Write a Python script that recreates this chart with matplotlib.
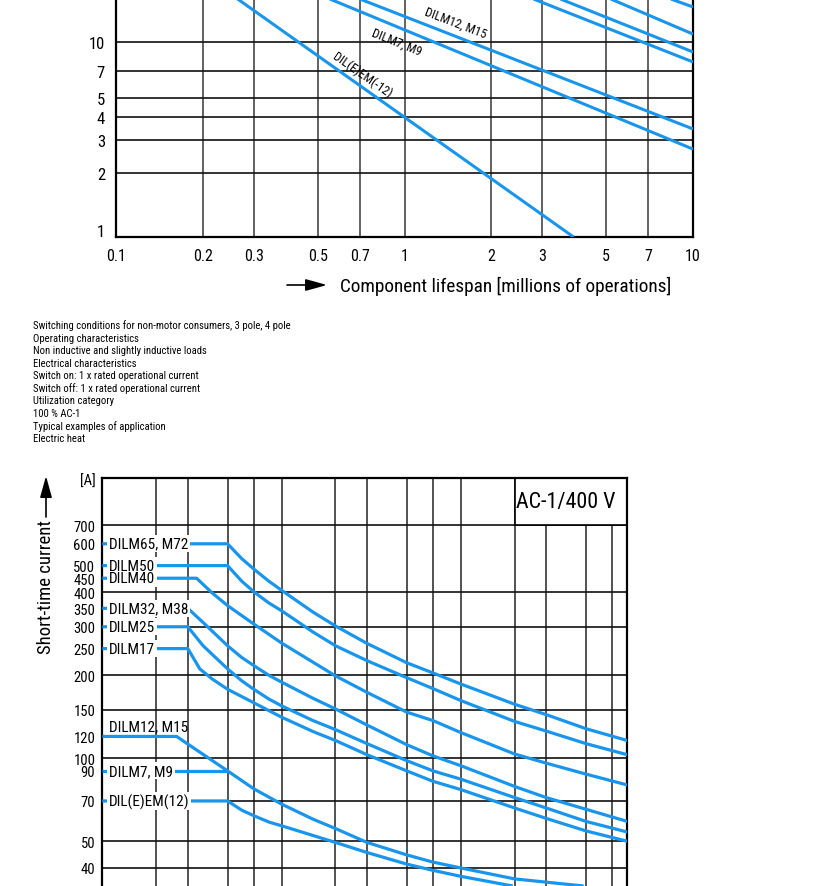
import matplotlib
matplotlib.use('Agg')
import matplotlib.pyplot as plt
from matplotlib import font_manager
from matplotlib.patches import Rectangle, FancyArrowPatch
from matplotlib.ticker import NullLocator

# pick a narrow sans if there is one
names = {f.name for f in font_manager.fontManager.ttflist}
font = 'DejaVu Sans'
for cand in ['Liberation Sans Narrow', 'Roboto Condensed', 'Liberation Sans']:
    if cand in names:
        font = cand
        break
plt.rcParams['font.family'] = [font, 'DejaVu Sans']

BLUE = '#1a95ec'
W, H = 830, 887

# ---- top chart: component lifespan (AC-1) ----
life_xticks = [0.1, 0.2, 0.3, 0.5, 0.7, 1, 2, 3, 5, 7, 10]
life_xlabels = ['0.1', '0.2', '0.3', '0.5', '0.7', '1', '2', '3', '5', '7', '10']
life_ygrid = [2, 3, 4, 5, 7, 10]

# straight lines, read at the top edge and at the right/bottom edge
life_dilem_x = [0.264, 3.856]
life_dilem_y = [16.8, 0.92]
life_dilm7_x = [0.551, 10]
life_dilm7_y = [16.8, 2.69]
life_dilm12_x = [0.70, 10]
life_dilm12_y = [16.8, 3.44]
life_c_x = [2.8, 10]
life_c_y = [16.8, 7.79]
life_d_x = [3.47, 10]
life_d_y = [16.8, 8.8]
life_e_x = [5.19, 10]
life_e_y = [16.8, 10.95]
life_f_x = [8.38, 10]
life_f_y = [16.8, 15.24]

info_lines = [
    'Switching conditions for non-motor consumers, 3 pole, 4 pole',
    'Operating characteristics',
    'Non inductive and slightly inductive loads',
    'Electrical characteristics',
    'Switch on: 1 x rated operational current',
    'Switch off: 1 x rated operational current',
    'Utilization category',
    '100 % AC-1',
    'Typical examples of application',
    'Electric heat',
]

# ---- bottom chart: short-time current ----
st_xgrid = [2, 3, 5, 7, 10, 20, 30, 50, 70, 100, 200, 300, 500, 700]
st_ygrid = [40, 50, 70, 100, 150, 200, 300, 400, 700]
st_yextra = [90, 120, 250, 350, 450, 500, 600]

dilm65_x = [1, 5, 6, 7, 8.5, 10, 15, 20, 30, 50, 70, 100, 200, 300, 500, 850]
dilm65_y = [600, 600, 530, 486, 439, 407, 339, 302, 261, 222, 204, 186, 157, 144, 128, 116]
dilm50_x = [1, 5, 6, 7, 8.5, 10, 15, 20, 30, 50, 70, 100, 200, 300, 500, 850]
dilm50_y = [500, 500, 439, 402, 366, 343, 287, 256, 226, 196, 179, 162, 136, 125.5, 113, 103]
dilm40_x = [1, 3.36, 4.1, 5, 7, 10, 20, 30, 50, 70, 100, 200, 300, 500, 850]
dilm40_y = [450, 450, 398, 358, 307, 262, 199, 173.4, 147, 137, 124, 103.6, 96, 87.6, 80]
dilm32_x = [1, 3, 3.65, 5, 6, 7, 8.5, 10, 15, 20, 30, 50, 70, 100, 200, 300, 500, 850]
dilm32_y = [350, 350, 311, 256, 232, 217, 200, 189, 165, 151, 132, 112, 102, 94, 79, 72, 65.3, 59]
dilm25_x = [1, 3, 3.65, 5, 6, 7, 8.5, 10, 15, 20, 30, 50, 70, 100, 200, 300, 500, 850]
dilm25_y = [300, 300, 256, 211, 191, 178, 164, 155, 137, 127, 113, 98, 90, 84, 72, 66, 59, 54]
dilm17_x = [1, 3, 3.5, 4.1, 5, 7, 10, 15, 20, 30, 50, 70, 100, 200, 300, 500, 850]
dilm17_y = [250, 250, 211, 194, 178, 159, 141, 125, 116, 103, 90, 82.5, 77, 66, 60.5, 54.5, 50]
dilm12_x = [1, 2.6, 3, 5, 7, 10, 15, 20, 30, 50, 70, 100, 200, 485]
dilm12_y = [120, 120, 112.6, 90, 77.5, 68.2, 60.1, 55.6, 49.5, 44.6, 42, 40, 36.5, 34.4]
dilm7_x = [1, 5]
dilm7_y = [90, 90]
dilem_x = [1, 5, 6, 7, 8.5, 10, 20, 30, 50, 70, 100, 195]
dilem_y = [70, 70, 64.8, 61.9, 58.7, 56.9, 49.5, 45.5, 41.3, 39.2, 37.3, 34.4]

st_labels = ['DILM65, M72', 'DILM50', 'DILM40', 'DILM32, M38', 'DILM25', 'DILM17',
             'DILM7, M9', 'DIL(E)EM(12)']
st_label_y = [600, 500, 450, 350, 300, 250, 90, 70]


def fx(px):
    return px / W


def fy(py):
    return 1 - py / H


fig = plt.figure(figsize=(W / 100, H / 100), dpi=100)
fig.patch.set_facecolor('white')

# top chart
ax1 = fig.add_axes([fx(116), fy(238), fx(693) - fx(116), 1 - fy(238)])
ax1.set_xscale('log')
ax1.set_yscale('log')
ax1.set_xlim(0.1, 10)
ax1.set_ylim(0.92, 16.8)
for xs, ys in [(life_dilem_x, life_dilem_y), (life_dilm7_x, life_dilm7_y),
               (life_dilm12_x, life_dilm12_y), (life_c_x, life_c_y),
               (life_d_x, life_d_y), (life_e_x, life_e_y), (life_f_x, life_f_y)]:
    ax1.plot(xs, ys, color=BLUE, lw=2.2, solid_capstyle='butt', zorder=3)
ax1.set_xticks(life_xticks, labels=life_xlabels)
ax1.xaxis.set_minor_locator(NullLocator())
ax1.set_yticks(life_ygrid, labels=[str(v) for v in life_ygrid])
ax1.set_yticks([1], labels=['1'], minor=True)
ax1.xaxis.grid(True, which='major', color='#555555', lw=1.3)
ax1.yaxis.grid(True, which='major', color='#111111', lw=1.2)
ax1.set_axisbelow(True)
ax1.tick_params(axis='x', which='both', length=0, pad=8, labelsize=11.5)
ax1.tick_params(axis='y', which='both', length=0, pad=8, labelsize=12)
ax1.spines['top'].set_visible(False)
for s in ['left', 'right', 'bottom']:
    ax1.spines[s].set_linewidth(1.6)

ax1.text(1.5, 12.7, 'DILM12, M15', rotation=-21, fontsize=9,
         ha='center', va='center', rotation_mode='anchor', zorder=4)
ax1.text(0.942, 10.05, 'DILM7, M9', rotation=-22, fontsize=9,
         ha='center', va='center', rotation_mode='anchor', zorder=4)
ax1.text(0.711, 6.72, 'DIL(E)EM(-12)', rotation=-35, fontsize=9,
         ha='center', va='center', rotation_mode='anchor', zorder=4)

fig.text(fx(340), fy(286), 'Component lifespan [millions of operations]',
         fontsize=13.9, ha='left', va='center')
fig.add_artist(FancyArrowPatch((fx(287), fy(286)), (fx(327), fy(286)),
                               transform=fig.transFigure,
                               arrowstyle='-|>,head_length=0.65,head_width=0.18',
                               mutation_scale=20, color='black', lw=1.2,
                               shrinkA=0, shrinkB=0))

# description lines
for i, line in enumerate(info_lines):
    fig.text(fx(33), fy(326 + i * 12.56), line, fontsize=7.7, ha='left', va='center')

# bottom chart
ax2 = fig.add_axes([fx(102.3), 0, fx(627.3) - fx(102.3), fy(479.3)])
ax2.set_xscale('log')
ax2.set_yscale('log')
ax2.set_xlim(1, 850)
ax2.set_ylim(34.4, 1037)
for xs, ys in [(dilm65_x, dilm65_y), (dilm50_x, dilm50_y), (dilm40_x, dilm40_y),
               (dilm32_x, dilm32_y), (dilm25_x, dilm25_y), (dilm17_x, dilm17_y),
               (dilm12_x, dilm12_y), (dilm7_x, dilm7_y), (dilem_x, dilem_y)]:
    ax2.plot(xs, ys, color=BLUE, lw=2.3, solid_capstyle='butt',
             solid_joinstyle='round', zorder=3)

ax2.set_xticks(st_xgrid, labels=[''] * len(st_xgrid))
ax2.xaxis.set_minor_locator(NullLocator())
ax2.set_yticks(st_ygrid, labels=[str(v) for v in st_ygrid])
ax2.set_yticks(st_yextra, labels=[str(v) for v in st_yextra], minor=True)
ax2.xaxis.grid(True, which='major', color='#444444', lw=1.3)
ax2.yaxis.grid(True, which='major', color='#111111', lw=1.2)
ax2.set_axisbelow(True)
ax2.tick_params(which='both', length=0, pad=5, labelsize=10.5)
ax2.spines['bottom'].set_visible(False)
for s in ['left', 'right', 'top']:
    ax2.spines[s].set_linewidth(1.6)

# white knock-outs first, then the label texts on top of all of them
for name, yv in zip(st_labels, st_label_y):
    ax2.text(1.09, yv, name, fontsize=11, ha='left', va='center', zorder=3.5,
             color='none',
             bbox=dict(boxstyle='square,pad=0.1', fc='white', ec='none'))
for name, yv in zip(st_labels, st_label_y):
    ax2.text(1.09, yv, name, fontsize=11, ha='left', va='center', zorder=4)
ax2.annotate('DILM12, M15', (1.09, 120), xytext=(0, 7), textcoords='offset points',
             fontsize=11, ha='left', va='center', zorder=4)

ax2.add_patch(Rectangle((200, 700), 650, 337, facecolor='white', edgecolor='black',
                        lw=1.2, zorder=1.5))
ax2.text(fx(566), fy(503), 'AC-1/400 V', transform=fig.transFigure, fontsize=15.8,
         ha='center', va='center', zorder=4)
ax2.text(-0.012, 0.993, '[A]', transform=ax2.transAxes, fontsize=10.5,
         ha='right', va='center')

fig.text(fx(46), fy(587), 'Short-time current', rotation=90, fontsize=13.5,
         ha='center', va='center')
fig.add_artist(FancyArrowPatch((fx(46), fy(518)), (fx(46), fy(477)),
                               transform=fig.transFigure,
                               arrowstyle='-|>,head_length=0.65,head_width=0.18',
                               mutation_scale=20, color='black', lw=1.2,
                               shrinkA=0, shrinkB=0))

fig.savefig('out.png', dpi=100, facecolor='white')
